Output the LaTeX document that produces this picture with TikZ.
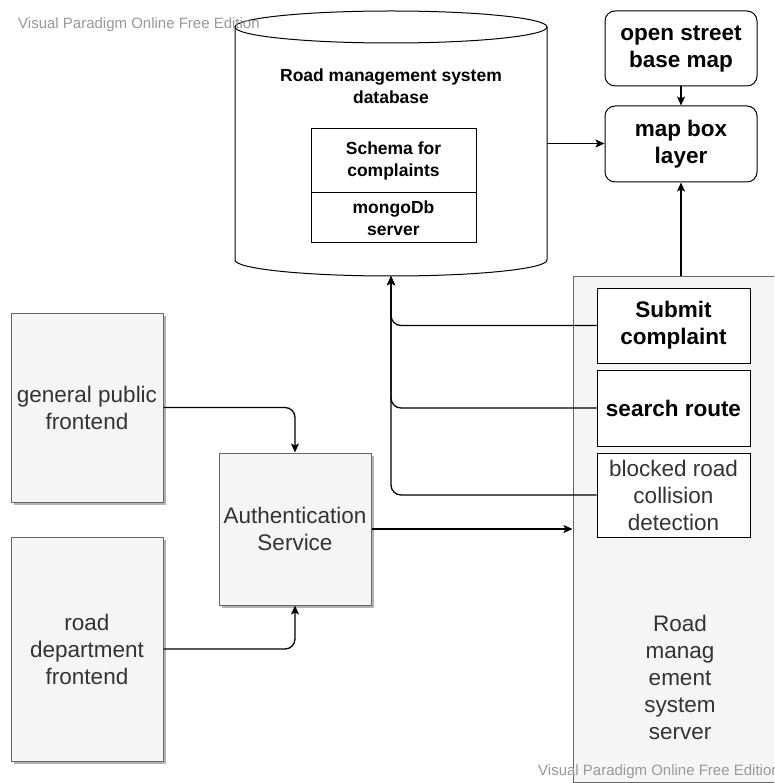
\documentclass[tikz,border=0pt]{standalone}
\usepackage{fontspec}
\setmainfont{Liberation Sans}
\usetikzlibrary{arrows.meta,shadows,calc}
\definecolor{boxfill}{HTML}{F5F5F5}
\definecolor{boxline}{HTML}{666666}
\definecolor{txtgray}{HTML}{333333}
\definecolor{wm}{HTML}{999999}
\begin{document}
\begin{tikzpicture}[x=1pt,y=-1pt,
  base/.style={align=center, inner sep=0pt, font=\fontsize{22.5}{27}\selectfont},
  graybox/.style={base, draw=boxline, fill=boxfill, text=txtgray, line width=1pt,
    drop shadow={shadow xshift=3pt, shadow yshift=-3pt, fill=black!30, opacity=1}},
  whitebox/.style={base, draw=black, fill=white, line width=1pt},
  roundbox/.style={whitebox, rounded corners=10pt, font=\bfseries\fontsize{22.5}{27}\selectfont},
  dbtext/.style={align=center, inner sep=0pt, font=\bfseries\fontsize{17.5}{21.5}\selectfont},
  arr/.style={draw=black, line width=1.3pt, rounded corners=10pt, -{Stealth[length=9pt,width=8pt,inset=2pt]}},
  wmark/.style={text=wm, inner sep=0pt, anchor=west, font=\fontsize{15}{18}\selectfont}
]
\clip (0,0) rectangle (774,783);
\fill[white] (0,0) rectangle (774,783);

% database cylinder
\node[minimum width=312pt, minimum height=265pt, inner sep=0pt] (db) at (391,143.5) {};
\draw[line width=1pt, fill=white] (235,27) -- (235,260)
  arc[start angle=180, end angle=0, x radius=156, y radius=16] -- (547,27);
\draw[line width=1pt, fill=white] (391,27) ellipse[x radius=156, y radius=16];
\node[dbtext] (dbtitle) at (391,86) {Road management system\\database};
\node[whitebox, dbtext, minimum width=165pt, minimum height=64pt] (schema) at (393.5,161) {Schema for\\complaints};
\node[whitebox, dbtext, minimum width=165pt, minimum height=50pt] (mongo) at (393.5,218) {mongoDb\\server};

% map boxes
\node[roundbox, minimum width=152pt, minimum height=75pt] (osm) at (681,48.5) {open street\\base map};
\node[roundbox, minimum width=152pt, minimum height=76pt] (mapbox) at (681,144) {map box\\layer};

% server container
\node[base, draw=boxline, fill=boxfill, line width=1pt, minimum width=216pt, minimum height=506pt] (server) at (681,529) {};
\node[base, text=txtgray] (srvtext) at (680,677) {Road\\manag\\ement\\system\\server};

\node[whitebox, font=\bfseries\fontsize{22.5}{27}\selectfont, minimum width=153pt, minimum height=75pt] (submit) at (673.5,325.5) {Submit\\complaint};
\node[whitebox, font=\bfseries\fontsize{22.5}{27}\selectfont, minimum width=153pt, minimum height=76pt] (search) at (673.5,408) {search route};
\node[whitebox, text=txtgray, minimum width=153pt, minimum height=84pt] (blocked) at (673.5,495) {blocked road\\collision\\detection};

% left boxes
\node[graybox, minimum width=152pt, minimum height=189pt] (gp) at (87,407.5) {general public\\frontend};
\node[graybox, minimum width=152pt, minimum height=224pt] (rd) at (87,649) {road\\department\\frontend};
\node[graybox, minimum width=152pt, minimum height=152pt] (auth) at (295,529) {Authentication\\Service};

% connectors
\draw[arr] (osm.south) -- (mapbox.north);
\draw[arr] (db.east) -- (db.east -| mapbox.west);
\draw[arr] (server.north -| mapbox.south) -- (mapbox.south);
\draw[arr] (submit.west) -| (db.south);
\draw[arr] (search.west) -| (db.south);
\draw[arr] (blocked.west) -| (db.south);
\draw[arr] (gp.east) -| (auth.north);
\draw[arr] (rd.east) -| (auth.south);
\draw[arr] (auth.east) -- (auth.east -| server.west);

% watermarks
\node[wmark] (wm1) at (18,25) {Visual Paradigm Online Free Edition};
\node[wmark] (wm2) at (538,772) {Visual Paradigm Online Free Edition};
\end{tikzpicture}
\end{document}
